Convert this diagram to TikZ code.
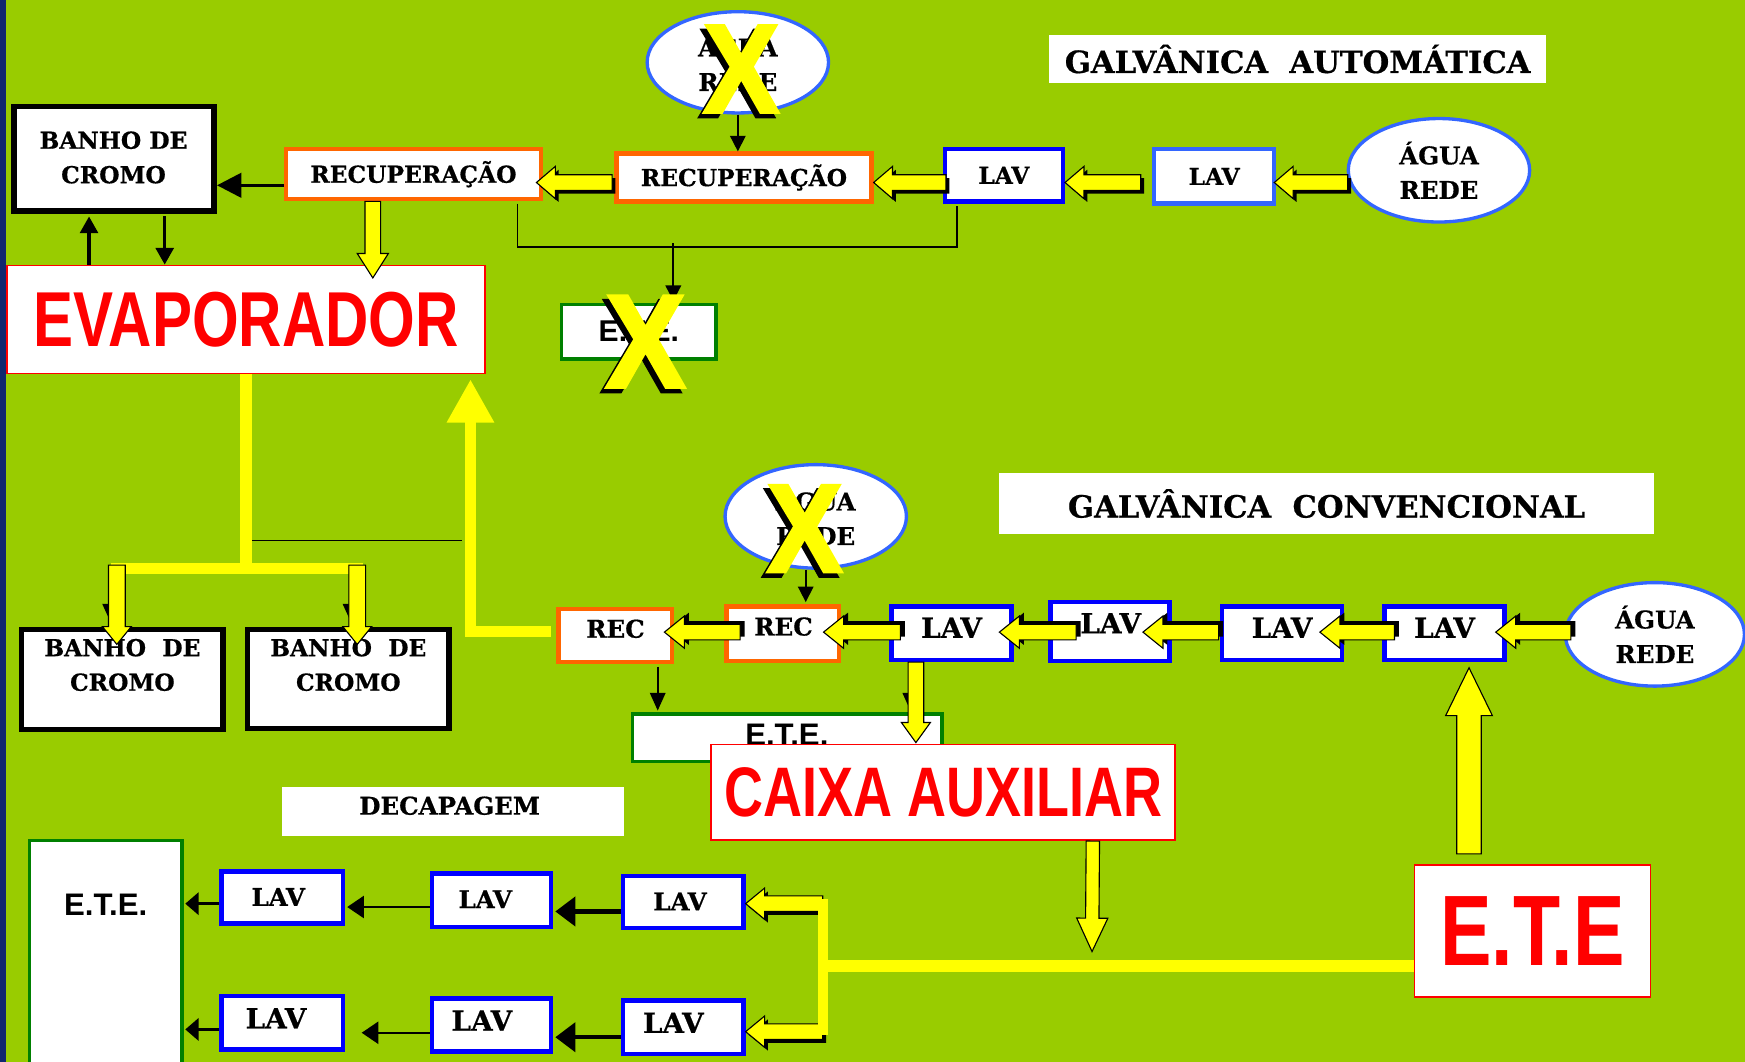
\documentclass[tikz,border=0pt]{standalone}
\usepackage{fontspec}
\setmainfont{DejaVu Serif}[BoldFeatures={FakeBold=0.6}]
\newfontfamily\narrowsans[FakeStretch=0.77]{Liberation Sans}
\newfontfamily\plainsans{Liberation Sans}
\newfontfamily\xsans[FakeStretch=0.9,BoldFeatures={FakeBold=2.5}]{Liberation Sans}
\usetikzlibrary{arrows.meta,calc,shapes.geometric}
\definecolor{bggreen}{RGB}{153,204,0}
\definecolor{orng}{RGB}{255,102,0}
\definecolor{dblue}{RGB}{0,0,255}
\definecolor{lblue}{RGB}{51,102,255}
\definecolor{dgreen}{RGB}{0,128,0}
\definecolor{yel}{RGB}{255,255,0}
\definecolor{navy}{RGB}{16,40,110}
\tikzset{
 box/.style={draw, fill=white, inner sep=0pt, align=center, font=\bfseries\fontsize{21pt}{30pt}\selectfont},
 wh/.style 2 args={minimum width=#1pt, minimum height=#2pt},
 blackbox/.style={box, draw=black, line width=5pt},
 orangebox/.style={box, draw=orng, line width=4pt},
 bluebox/.style={box, draw=dblue, line width=4pt},
 greenbox/.style={box, draw=dgreen, line width=3pt},
 redbox/.style={box, draw=red, line width=1.5pt},
 titlebox/.style={fill=white, inner sep=0pt, font=\bfseries\fontsize{27.5pt}{30pt}\selectfont},
 water/.style={ellipse, draw=lblue, line width=3pt, fill=white, inner sep=0pt, align=center, font=\bfseries\fontsize{22pt}{31pt}\selectfont},
 lbl/.style={inner sep=0pt, align=center, font=\bfseries\fontsize{#1pt}{31pt}\selectfont},
 sanslbl/.style={inner sep=0pt, font=\plainsans\bfseries\fontsize{#1pt}{#1pt}\selectfont},
 bigred/.style={inner sep=0pt, text=red, font=\narrowsans\bfseries\fontsize{#1pt}{#1pt}\selectfont},
 xmark/.style={inner sep=0pt, font=\xsans\bfseries\fontsize{#1pt}{#1pt}\selectfont},
 yarrow/.style={fill=yel, draw=black, line width=1pt, line join=miter},
 yline/.style={draw=yel, line width=#1pt},
 bline/.style={draw=black, line width=#1pt},
}
% #1 shadow shift, #2 start, #3 tip, #4 shaft half width, #5 head half width, #6 head length
\newcommand\blockarr[6]{%
 \coordinate (ba-s) at #2;
 \coordinate (ba-t) at #3;
 \coordinate (ba-b) at ($(ba-t)!#6!(ba-s)$);
 \fill[black, transform canvas={shift={#1}}] ($(ba-s)!#4!-90:(ba-t)$) -- ($(ba-b)!#4!90:(ba-s)$) -- ($(ba-b)!#5!90:(ba-s)$) -- (ba-t) -- ($(ba-b)!#5!-90:(ba-s)$) -- ($(ba-b)!#4!-90:(ba-s)$) -- ($(ba-s)!#4!90:(ba-t)$) -- cycle;
 \filldraw[yarrow] ($(ba-s)!#4!-90:(ba-t)$) -- ($(ba-b)!#4!90:(ba-s)$) -- ($(ba-b)!#5!90:(ba-s)$) -- (ba-t) -- ($(ba-b)!#5!-90:(ba-s)$) -- ($(ba-b)!#4!-90:(ba-s)$) -- ($(ba-s)!#4!90:(ba-t)$) -- cycle;
}
\begin{document}
\begin{tikzpicture}[x=1pt,y=-1pt]
\useasboundingbox (0,0) rectangle (1568,954);
\fill[bggreen] (0,0) rectangle (1568,954);
\fill[navy] (0,0) rectangle (5,954);

% ---------- top: galvanica automatica ----------
\node[blackbox, wh={180}{94}] (banho1) at (102.5,142.5) {};
\node[lbl=21] (banho1t) at (102,141.5) {BANHO DE\\CROMO};
\node[orangebox, wh={229}{45}] (recup1) at (371.5,156.5) {RECUPERAÇÃO};
\node[orangebox, wh={229}{43}] (recup2) at (668.5,159.5) {RECUPERAÇÃO};
\node[bluebox, wh={106}{47}] (lavt1) at (902,157.5) {LAV};
\node[bluebox, draw=lblue, wh={108}{49}] (lavt2) at (1091,158.5) {LAV};
\node[water, wh={163}{93}] (aguat) at (1293,153) {ÁGUA\\REDE};
\node[water, wh={163}{91}] (aguax1) at (663,56) {ÁGUA\\REDE};
\node[greenbox, wh={139}{49}, font=\plainsans\bfseries\fontsize{27pt}{27pt}\selectfont] (etex) at (574,298) {E.T.E.};
\node[titlebox, wh={446}{44}] (gauto) at (1166,53) {GALVÂNICA\ \ AUTOMÁTICA};
\node[redbox, wh={430}{97}, bigred=70] (evap) at (221,287) {EVAPORADOR};

% ---------- middle: galvanica convencional ----------
\node[blackbox, wh={181}{90}] (banho2) at (110,610.5) {};
\node[lbl=21] (banho2t) at (110,597.5) {BANHO\ \ DE\\CROMO};
\node[blackbox, wh={181}{89}] (banho3) at (313,610) {};
\node[lbl=21] (banho3t) at (313,597.5) {BANHO\ \ DE\\CROMO};
\node[water, wh={163}{93}] (aguax2) at (733,464) {ÁGUA\\REDE};
\node[orangebox, wh={102}{48}] (rec1) at (553,571) {};
\node[lbl=22] (rec1t) at (553,565) {REC};
\node[orangebox, wh={101}{49}] (rec2) at (703.5,569.5) {};
\node[lbl=22] (rec2t) at (704,563) {REC};
\node[bluebox, wh={108}{48}] (lava) at (855,569) {};
\node[lbl=25] (lavat) at (855,564) {LAV};
\node[bluebox, wh={107}{53}] (lavb) at (997.5,567.5) {};
\node[lbl=25] (lavbt) at (998,560) {LAV};
\node[bluebox, wh={108}{48}] (lavc) at (1152,569) {};
\node[lbl=25] (lavct) at (1152,564) {LAV};
\node[bluebox, wh={108}{48}] (lavd) at (1298,569) {};
\node[lbl=25] (lavdt) at (1298,564) {LAV};
\node[water, wh={161}{93}] (aguar) at (1487,570) {ÁGUA\\REDE};
\node[titlebox, wh={588}{55}] (gconv) at (1192,452.5) {GALVÂNICA\ \ CONVENCIONAL};
\node[greenbox, wh={278}{43}] (etem) at (707.5,663) {};
\node[sanslbl=28] (etemt) at (707,660) {E.T.E.};

% ---------- bottom: decapagem ----------
\node[titlebox, wh={308}{44}] (decap) at (407,729) {};
\node[lbl=22] (decapt) at (404,724) {DECAPAGEM};
\node[greenbox, wh={137}{218}] (etel) at (95,864.5) {};
\node[sanslbl=28] (etelt) at (95,813) {E.T.E.};
\node[bluebox, wh={109}{47}] (l1) at (253.5,806.5) {};
\node[lbl=22] (l1t) at (250,806) {LAV};
\node[bluebox, wh={107}{48}] (l2) at (441.5,809) {};
\node[lbl=22] (l2t) at (436,808) {LAV};
\node[bluebox, wh={108}{47}] (l3) at (614,810.5) {};
\node[lbl=22] (l3t) at (611,810) {LAV};
\node[bluebox, wh={109}{48}] (m1) at (253.5,919) {};
\node[lbl=25] (m1t) at (248,915) {LAV};
\node[bluebox, wh={107}{48}] (m2) at (441.5,921) {};
\node[lbl=25] (m2t) at (433,917) {LAV};
\node[bluebox, wh={108}{48}] (m3) at (614,923) {};
\node[lbl=25] (m3t) at (605,919) {LAV};

% ---------- black connectors ----------
\coordinate (c1) at ($(recup1.west)+(0,10)$);
\draw[bline=3, -{Triangle[length=22pt,width=22pt]}] (c1) -- (c1 -| banho1.east);
\draw[bline=3, -{Triangle[length=15pt,width=16pt]}] ($(evap.north)+(-141,0)$) -- ($(banho1.south)+(-22.5,2.5)$);
\draw[bline=3, -{Triangle[length=15pt,width=16pt]}] ($(banho1.south)+(45.5,2.5)$) -- ($(evap.north)+(-73,0)$);
\draw[bline=1.5, -{Triangle[length=14pt,width=14pt]}] (aguax1.south) -- (aguax1.south |- recup2.north);
\coordinate (r1b) at ($(recup1.south)+(93.5,2)$);
\coordinate (l1b) at ($(lavt1.south)+(-42,2)$);
\draw[bline=1.5] (r1b) -- ++(0,39) -| (l1b);
\draw[bline=1.5, -{Triangle[length=14pt,width=14pt]}] ($(etex.north)+(31,-53.5)$) -- ($(etex.north)+(31,-1.5)$);

\coordinate (evj) at ($(evap.south)+(0,174.5)$);
\draw[bline=1.5] ($(evj)+(5,-25)$) -- ($(evj)+(194,-25)$);
\draw[bline=1.5, -{Triangle[length=18pt,width=16pt]}] ($(evj)+(-121,0)$) -- ($(banho2.north)+(-10,-2.5)$);
\draw[bline=1.5, -{Triangle[length=18pt,width=16pt]}] ($(evj)+(95,0)$) -- ($(banho3.north)+(3,-2.5)$);
\draw[bline=1.5, -{Triangle[length=14pt,width=14pt]}] ($(aguax2.south)+(-9,0)$) -- ($(rec2.north)+(20.5,-2)$);
\draw[bline=1.5, -{Triangle[length=16pt,width=14pt]}] ($(rec1.south)+(38,2)$) -- ($(etem.north)+(-116.5,-1.5)$);
\draw[bline=1.5, -{Triangle[length=16pt,width=14pt]}] ($(lava.south)+(-37,2)$) -- ($(etem.north)+(110.5,-1.5)$);

\draw[bline=4, -{Triangle[length=18pt,width=26pt]}] ($(l3.west)+(0,8.5)$) -- ($(l2.east)+(2,10)$);
\draw[bline=1.5, -{Triangle[length=15pt,width=20pt]}] ($(l2.west)+(0,6)$) -- ($(l1.east)+(2,8.5)$);
\draw[bline=2.5, -{Triangle[length=12pt,width=20pt]}] ($(l1.west)+(0,5.5)$) -- ($(etel.east)+(1.5,-52.5)$);
\draw[bline=4, -{Triangle[length=18pt,width=26pt]}] ($(m3.west)+(0,9)$) -- ($(m2.east)+(2,11)$);
\draw[bline=1.5, -{Triangle[length=15pt,width=20pt]}] ($(m2.west)+(0,7)$) -- ($(m1.east)+(15,9)$);
\draw[bline=2.5, -{Triangle[length=12pt,width=20pt]}] ($(m1.west)+(0,6)$) -- ($(etel.east)+(1.5,60.5)$);

% ---------- yellow flows ----------
\blockarr{(0pt,0pt)}{($(recup1.south)+(-36.5,0)$)}{($(evap.north)+(114,12)$)}{7pt}{14pt}{22pt}
\blockarr{(3pt,-3pt)}{($(aguat.west)+(1,11)$)}{($(lavt2.east)+(-2,5.5)$)}{7pt}{14.5pt}{17pt}
\blockarr{(3pt,-3pt)}{($(lavt2.west)+(-10,5.5)$)}{($(lavt1.east)+(0,6.5)$)}{7pt}{14.5pt}{17pt}
\blockarr{(3pt,-3pt)}{($(lavt1.west)+(3,6.5)$)}{($(recup2.east)+(0,4.5)$)}{7pt}{14.5pt}{17pt}
\blockarr{(3pt,-3pt)}{($(recup2.west)+(-2,4.5)$)}{($(recup1.east)+(-6,7.5)$)}{7pt}{14.5pt}{17pt}

\draw[yline=10] (evap.south) -- (evj);
\draw[yline=10] ($(evj)+(-121,0)$) -- ($(evj)+(105,0)$);
\blockarr{(0pt,0pt)}{($(evj)+(-116,-3)$)}{($(banho2.north)+(-5,16)$)}{7.5pt}{13pt}{16pt}
\blockarr{(0pt,0pt)}{($(evj)+(100,-3)$)}{($(banho3.north)+(8,16)$)}{7.5pt}{13pt}{16pt}
\draw[yline=10, -{Triangle[length=39pt,width=40pt]}] ($(rec1.west)+(-5,-3.5)$) -| ($(evap.south east)+(-14,4.5)$);

\blockarr{(4pt,3pt)}{($(aguar.west)+(6.5,-2)$)}{($(lavd.east)+(-10,-1)$)}{7pt}{14.5pt}{18pt}
\blockarr{(4pt,3pt)}{($(lavd.west)+(11,-1)$)}{($(lavc.east)+(-22,-1)$)}{7pt}{14.5pt}{18pt}
\blockarr{(4pt,3pt)}{($(lavc.west)+(-1,-1)$)}{($(lavb.east)+(-26,0.5)$)}{7pt}{14.5pt}{18pt}
\blockarr{(4pt,3pt)}{($(lavb.west)+(25,0.5)$)}{($(lava.east)+(-13,-1)$)}{7pt}{14.5pt}{18pt}
\blockarr{(4pt,3pt)}{($(lava.west)+(10,-1)$)}{($(rec2.east)+(-16,-1.5)$)}{7pt}{14.5pt}{18pt}
\blockarr{(4pt,3pt)}{($(rec2.west)+(14,-1.5)$)}{($(rec1.east)+(-9,-3)$)}{7pt}{14.5pt}{18pt}

\node[redbox, wh={417}{86}, bigred=63] (caixa) at (847.5,712) {CAIXA AUXILIAR};
\node[redbox, wh={212}{119}, bigred=90] (eteb) at (1377,836.5) {E.T.E};
\blockarr{(0pt,0pt)}{($(lava.south)+(-32,0)$)}{($(caixa.north)+(-24.5,-1)$)}{7pt}{13pt}{18pt}

\coordinate (dj) at ($(eteb.west)+(-531,31.5)$);
\blockarr{(0pt,0pt)}{($(caixa.south)+(134.5,0)$)}{($(dj)+(242,-13)$)}{6pt}{14pt}{30pt}
\blockarr{(3pt,-3pt)}{($(dj)+(0,-56)$)}{($(l3.east)+(0,1.5)$)}{7pt}{14pt}{17pt}
\blockarr{(3pt,-3pt)}{($(dj)+(0,59)$)}{($(m3.east)+(0,4)$)}{7pt}{14pt}{17pt}
\draw[yline=10] ($(eteb.west)+(0,31.5)$) -- (dj);
\draw[yline=9] ($(dj)+(0,-60)$) -- ($(dj)+(0,62)$);
\blockarr{(0pt,0pt)}{($(eteb.north)+(-57,-9)$)}{($(lavd.south)+(22,5)$)}{11pt}{21pt}{43pt}

% ---------- crossed-out marks ----------
\node[xmark=113, text=black] (x1s) at (662,66) {X};
\node[xmark=113, text=yel] (x1) at (666,62) {X};
\node[xmark=113, text=black] (x2s) at (719,479) {X};
\node[xmark=113, text=yel] (x2) at (723,475) {X};
\node[xmark=119, text=black] (x3s) at (576,311) {X};
\node[xmark=119, text=yel] (x3) at (580,307) {X};
\end{tikzpicture}
\end{document}
